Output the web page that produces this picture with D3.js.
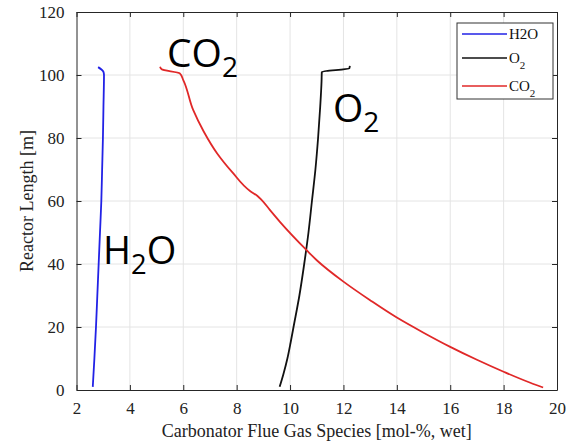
<!DOCTYPE html>
<html>
<head>
<meta charset="utf-8">
<script src="https://cdn.jsdelivr.net/npm/d3@7"></script>
<style>
  body { margin: 0; background: #fff; }
  text { font-family: "Liberation Serif", "Times New Roman", serif; }
</style>
</head>
<body>
<div id="chart"></div>
<script>
// values: [mol-%, reactor length m]
var h2oData = [[2.61,1],[2.67,10],[2.73,20],[2.78,30],[2.83,40],[2.88,50],[2.93,60],[2.96,70],[2.99,80],[3.01,90],[3.03,100],[3.01,101],[2.81,102.5]];
var o2Data = [[9.61,1],[9.75,5],[9.9,10],[10.02,15],[10.13,20],[10.35,30],[10.53,40],[10.69,50],[10.82,60],[10.95,70],[11.05,80],[11.13,90],[11.18,98],[11.19,101],[12.22,102.1],[12.24,102.9]];
var co2Data = [[5.13,102.6],[5.19,101.8],[5.87,100.5],[6.0,98.4],[6.37,88.9],[6.77,82.0],[7.27,75.1],[7.85,69.0],[8.5,63.2],[8.78,61.6],[8.94,60.3],[9.25,57.1],[9.62,53.4],[10.62,44.4],[11.0,41.2],[12.0,34.4],[13.0,28.5],[14.0,23.0],[15.0,18.2],[16.0,13.7],[17.0,9.6],[18.0,5.8],[19.0,2.3],[19.48,0.8]];

var xTicks = [2,4,6,8,10,12,14,16,18,20];
var yTicks = [0,20,40,60,80,100,120];

var seriesNames = ["H2O", "O2", "CO2"];
var seriesColors = ["#2222e6", "#111111", "#e02828"];

var margin = {top: 12, right: 28, bottom: 56, left: 76.5},
    width = 585 - margin.left - margin.right,
    height = 446 - margin.top - margin.bottom;

var svg = d3.select("#chart")
  .append("svg")
    .attr("width", 585)
    .attr("height", 446);

var g = svg.append("g")
    .attr("transform", "translate(" + margin.left + "," + margin.top + ")");

var x = d3.scaleLinear().domain([2, 20]).range([0, width]);
var y = d3.scaleLinear().domain([0, 120]).range([height, 0]);

// grid
g.append("g").selectAll("line").data(xTicks.slice(1, -1)).enter().append("line")
  .attr("x1", d => x(d)).attr("x2", d => x(d))
  .attr("y1", 0).attr("y2", height)
  .attr("stroke", "#e4e4e4").attr("stroke-width", 1);
g.append("g").selectAll("line").data(yTicks.slice(1, -1)).enter().append("line")
  .attr("y1", d => y(d)).attr("y2", d => y(d))
  .attr("x1", 0).attr("x2", width)
  .attr("stroke", "#e4e4e4").attr("stroke-width", 1);

// axes (box on, ticks inside)
var axisColor = "#262626";
var xAxis = d3.axisBottom(x).tickValues(xTicks).tickSizeInner(-5).tickSizeOuter(0).tickPadding(12);
var yAxis = d3.axisLeft(y).tickValues(yTicks).tickSizeInner(-5).tickSizeOuter(0).tickPadding(12);
var xTop = d3.axisTop(x).tickValues(xTicks).tickSizeInner(-5).tickSizeOuter(0).tickFormat("");
var yRight = d3.axisRight(y).tickValues(yTicks).tickSizeInner(-5).tickSizeOuter(0).tickFormat("");

[[xAxis, "translate(0," + height + ")"], [yAxis, null], [xTop, null], [yRight, "translate(" + width + ",0)"]].forEach(function(a) {
  var ax = g.append("g").call(a[0]);
  if (a[1]) ax.attr("transform", a[1]);
  ax.selectAll("path, line").attr("stroke", axisColor);
  ax.selectAll("text").attr("fill", "#222").style("font-size", "17px")
    .style("font-family", "'Liberation Serif', serif");
});

// lines: monotone in reactor length keeps the top corners sharp
var line = d3.line()
  .x(d => x(d[0]))
  .y(d => y(d[1]))
  .curve(d3.curveMonotoneY);

[h2oData, o2Data, co2Data].forEach(function(data, i) {
  g.append("path")
    .datum(data)
    .attr("fill", "none")
    .attr("stroke", seriesColors[i])
    .attr("stroke-width", 1.8)
    .attr("stroke-linejoin", "round")
    .attr("d", line);
});

// axis titles
svg.append("text")
  .attr("x", margin.left + width / 2)
  .attr("y", 437)
  .attr("text-anchor", "middle")
  .style("font-size", "18px")
  .attr("fill", "#222")
  .text("Carbonator Flue Gas Species [mol-%, wet]");

svg.append("text")
  .attr("transform", "translate(33," + (margin.top + height / 2) + ") rotate(-90)")
  .attr("text-anchor", "middle")
  .style("font-size", "18px")
  .attr("fill", "#222")
  .text("Reactor Length [m]");

// legend
var legend = svg.append("g").attr("transform", "translate(457,23)");
legend.append("rect")
  .attr("width", 96).attr("height", 76)
  .attr("fill", "#fff").attr("stroke", "#333").attr("stroke-width", 1);
var legendY = [11, 35, 63];
seriesNames.forEach(function(name, i) {
  legend.append("line")
    .attr("x1", 5).attr("x2", 50)
    .attr("y1", legendY[i]).attr("y2", legendY[i])
    .attr("stroke", seriesColors[i]).attr("stroke-width", 1.3);
  var t = legend.append("text")
    .attr("x", 52).attr("y", legendY[i] + 5)
    .style("font-size", "15px").attr("fill", "#111");
  if (name === "H2O") {
    t.text("H2O");
  } else {
    t.append("tspan").text(name.slice(0, -1));
    t.append("tspan").attr("dy", 6).style("font-size", "11px").text("2");
  }
});

// big annotations
function bigLabel(px, py, size, parts) {
  var t = svg.append("text")
    .attr("x", px).attr("y", py)
    .style("font-family", "'Open Sans', 'Noto Sans', sans-serif")
    .style("font-size", size + "px")
    .attr("fill", "#000");
  parts.forEach(function(p) {
    if (p.sub) {
      t.append("tspan").attr("dy", 10).style("font-size", (size * 0.72) + "px").text(p.s);
    } else {
      t.append("tspan").attr("dy", p.after ? -10 : 0).text(p.s);
    }
  });
}
bigLabel(167, 67, 39, [{s: "CO"}, {s: "2", sub: true}]);
bigLabel(333, 122, 39, [{s: "O"}, {s: "2", sub: true}]);
bigLabel(103, 264, 38, [{s: "H"}, {s: "2", sub: true}, {s: "O", after: true}]);
</script>
</body>
</html>
